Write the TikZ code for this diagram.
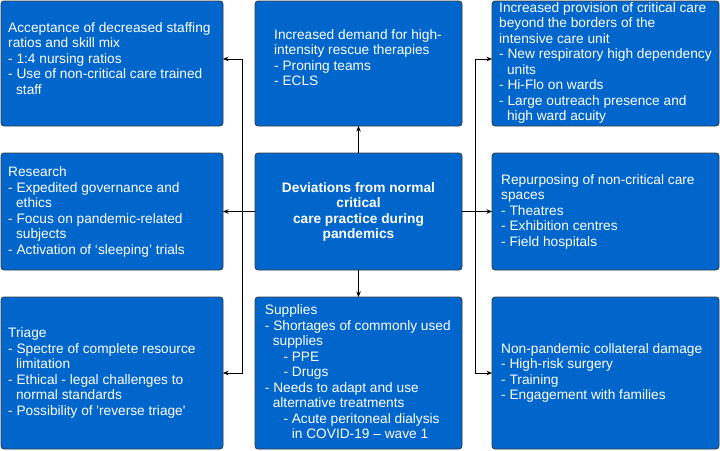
\documentclass[tikz,border=0pt]{standalone}
\usepackage{fontspec}
\newfontfamily\af{Liberation Sans}
\usetikzlibrary{arrows.meta}
\definecolor{boxblue}{HTML}{0066CC}
\definecolor{boxline}{HTML}{36393D}
\newcommand\indt{\hspace*{7.9pt}}
\newcommand\indtt{\hspace*{18.6pt}}
\newcommand\indttt{\hspace*{27pt}}
\tikzset{
  bx/.style={draw=boxline, line width=0.8pt, fill=boxblue, rounded corners=3pt,
    anchor=north west, inner sep=0pt, outer sep=0pt},
  tx/.style={text=white, font=\af\fontsize{13.7}{15.5}\selectfont, align=left,
    anchor=north west, inner sep=0pt},
  ctx/.style={text=white, font=\af\bfseries\fontsize{13.7}{15.5}\selectfont, align=center,
    anchor=north, inner sep=0pt},
  arr/.style={draw=black, line width=0.7pt, -{Stealth[length=5.5pt,width=4.5pt]}}
}
\begin{document}
\begin{tikzpicture}[x=1pt,y=-1pt]
\useasboundingbox (0,0) rectangle (720,450);
% boxes
\node[bx, minimum width=222pt, minimum height=125pt] (A) at (1,1) {};
\node[bx, minimum width=207pt, minimum height=125pt] (B) at (255,1) {};
\node[bx, minimum width=227pt, minimum height=125pt] (C) at (492,1) {};
\node[bx, minimum width=222pt, minimum height=117pt] (D) at (1,153) {};
\node[bx, minimum width=207pt, minimum height=117pt] (E) at (255,153) {};
\node[bx, minimum width=227pt, minimum height=117pt] (F) at (492,153) {};
\node[bx, minimum width=222pt, minimum height=152pt] (G) at (1,297) {};
\node[bx, minimum width=207pt, minimum height=152pt] (H) at (255,297) {};
\node[bx, minimum width=227pt, minimum height=152pt] (I) at (492,297) {};
% texts
\node[tx] (tA) at (8,21.1) {\strut Acceptance of decreased staffing\\ratios and skill mix\\- 1:4 nursing ratios\\- Use of non-critical care trained\\\indt staff};
\node[tx] (tB) at (274,28.4) {\strut Increased demand for high-\\intensity rescue therapies\\- Proning teams\\- ECLS};
\node[tx] (tC) at (499,1.4) {\strut Increased provision of critical care\\beyond the borders of the\\intensive care unit\\- New respiratory high dependency\\\indt units\\- Hi-Flo on wards\\- Large outreach presence and\\\indt high ward acuity};
\node[tx] (tD) at (8,165.8) {\strut Research\\- Expedited governance and\\\indt ethics\\- Focus on pandemic-related\\\indt subjects\\- Activation of ‘sleeping’ trials};
\node[ctx] (tE) at (358.5,181.4) {\strut Deviations from normal\\critical\\care practice during\\pandemics};
\node[tx] (tF) at (501,173.1) {\strut Repurposing of non-critical care\\spaces\\- Theatres\\- Exhibition centres\\- Field hospitals};
\node[tx] (tG) at (8,326.8) {\strut Triage\\- Spectre of complete resource\\\indt limitation\\- Ethical - legal challenges to\\\indt normal standards\\- Possibility of 'reverse triage'};
\node[tx] (tH) at (264.7,303.6) {\strut Supplies\\- Shortages of commonly used\\\indt supplies\\\indtt - PPE\\\indtt - Drugs\\- Needs to adapt and use\\\indt alternative treatments\\\indtt - Acute peritoneal dialysis\\\indttt in COVID-19 – wave 1};
\node[tx] (tI) at (501,342.4) {\strut Non-pandemic collateral damage\\- High-risk surgery\\- Training\\- Engagement with families};
% helper coordinates
\coordinate (lx) at (242,0);
\coordinate (rx) at (475,0);
\coordinate (y1) at (0,59);
\coordinate (y2) at (0,373);
% connectors
\draw[arr] (E.north) -- (B.south);
\draw[arr] (E.south) -- (H.north);
\draw[arr] (E.west) -- (D.east);
\draw[arr] (E.east) -- (F.west);
\draw[arr] (E.west) -| (lx |- y1) -- (A.east |- y1);
\draw[arr] (E.west) -| (lx |- y2) -- (G.east |- y2);
\draw[arr] (E.east) -| (rx |- y1) -- (C.west |- y1);
\draw[arr] (E.east) -| (rx |- y2) -- (I.west |- y2);
\end{tikzpicture}
\end{document}
